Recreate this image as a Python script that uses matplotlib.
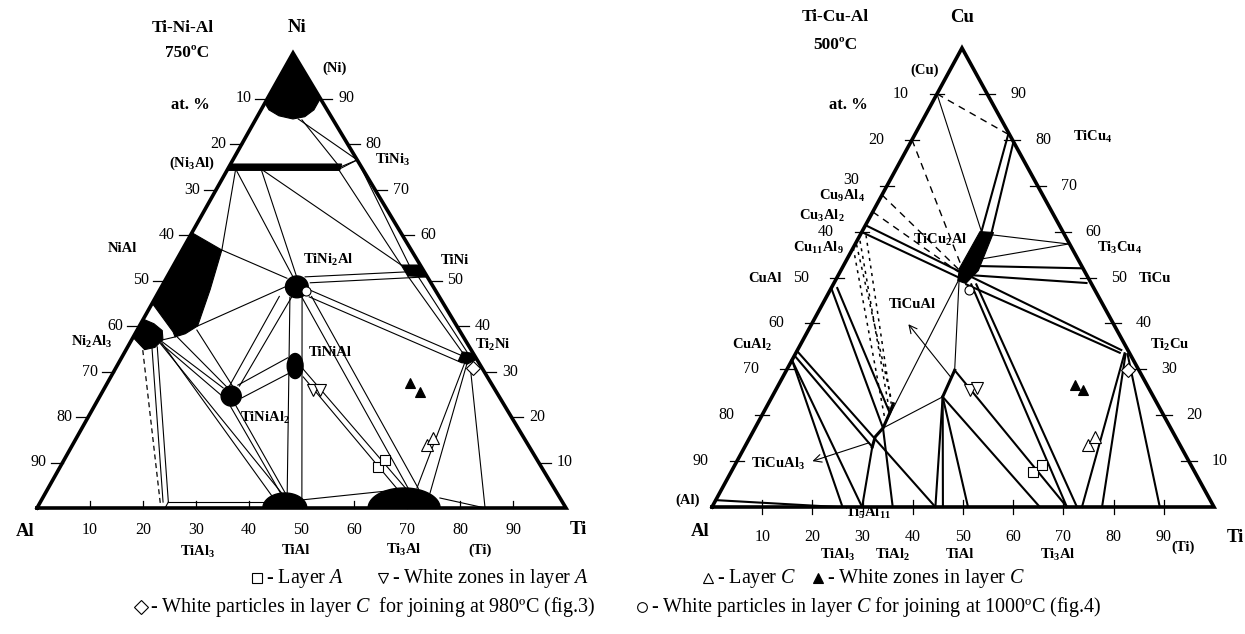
import numpy as np
import matplotlib
matplotlib.use("Agg")
import matplotlib.pyplot as plt
from matplotlib.patches import Polygon, Ellipse

W, H = 1245, 634

# ---------------- Ti-Ni-Al, 750 C : points are (Ti at.%, Ni at.%) ----------------
NI_SS = [(0, 100), (0, 89), (1.5, 87.5), (4, 86.2), (7, 85.5), (9, 86), (10, 87.5), (10, 90)]
NI3AL_BAR = [(0, 75.6), (21, 75.6), (21.3, 74.2), (0, 74.2)]
NIAL = [(0, 60.5), (7.5, 56.7), (9.5, 48), (11, 40), (9.5, 38.3), (7.9, 37.6), (7, 38.7), (0, 45)]
NI2AL3 = [(0, 41.5), (2.5, 40.5), (4.8, 39), (5.9, 37), (5.2, 35.3), (3.5, 34.8), (0, 37.5)]
TINI = [(43, 53.4), (46.6, 53.4), (49.2, 50.8), (45.4, 51)]
TI2NI = [(63.8, 34.3), (66, 34), (67.3, 32.7), (66, 31.6), (64, 32.3)]
# ellipse blobs: centre (Ti, Ni), width, height
NI_BLOBS = [((25.6, 48.6), 4.3, 4.8),   # TiNi2Al
            ((24.8, 24.6), 3.8, 4.4),   # TiNiAl2
            ((33.7, 31.2), 3.0, 5.5)]   # TiNiAl
# domes on the Al-Ti side: (Ti from, Ti to, height)
NI_DOMES = [(42.7, 51.0, 3.3), (62.6, 76.2, 4.4)]

NI_TIES = [
    ((8, 85.5), (23.5, 76.5)), ((8.8, 85.3), (21, 74.9)), ((21, 74.9), (23.5, 76.5)),
    ((21, 74.4), (23.5, 76.5)), ((21, 74.4), (43, 53.4)), ((23.5, 76.5), (44.5, 53.4)),
    ((1.5, 74.5), (7.5, 56.7)), ((1.5, 74.5), (23.8, 50.8)), ((6.3, 74.5), (24.5, 50.8)),
    ((6.3, 74.5), (43, 53.4)),
    ((7.5, 56.7), (22.8, 50.5)), ((11, 40), (23.4, 48.6)), ((5.7, 36.9), (7.9, 37.6)),
    ((8.3, 37.6), (23, 26.6)), ((11.3, 39.1), (24.2, 26.6)),
    ((5.4, 36.9), (22.4, 26.4)), ((5.4, 36.5), (23.4, 24.4)),
    ((6, 36.3), (43.4, 2.4)), ((6, 36), (45.7, 2.4)),
    ((4.7, 35.2), (23.2, 1.3)), ((5.6, 35.4), (24.2, 1.3)),
    ((24.2, 1.3), (42.9, 1.3)), ((24.2, 1.3), (24.2, 0)),
    ((23.3, 46.5), (23.4, 26.8)), ((25.7, 46.5), (25.3, 26.8)),
    ((25.6, 22.5), (45.3, 2.4)), ((26.6, 22.6), (46.2, 2.4)),
    ((25.4, 46.3), (45.7, 3.3)), ((27.7, 46.3), (49.2, 1.8)),
    ((24.9, 27.0), (31.4, 33.0)), ((27.0, 24.2), (33.4, 29.7)),
    ((35.2, 30.8), (68.0, 4.0)), ((36.4, 28.8), (66.3, 4.0)),
    ((27.0, 47.0), (68.2, 4.2)), ((29.4, 46.5), (70.0, 4.3)),
    ((28.4, 47.9), (64.8, 33.2)), ((29.0, 46.4), (64.9, 31.9)),
    ((26.1, 50.8), (44.8, 51.9)), ((27.7, 49.5), (49.1, 50.8)),
    ((45.4, 51), (64.3, 33.8)), ((47.5, 50.8), (65.0, 34.0)),
    ((69.7, 4.4), (65.4, 32.0)), ((72.7, 3.3), (65.9, 31.8)),
    ((66.9, 31.0), (84.7, 0)), ((75.1, 2.2), (84.7, 0)),
    ((49.4, 1.8), (67.9, 4.2)),
]
NI_DASH = [((3.2, 34.7), (23.0, 0.7))]

NI_SQ = ([60.1, 60.7], [9.0, 10.5])
NI_DOWN = ([39.6, 41.0], [25.9, 25.9])
NI_UP = ([67.0, 67.4], [13.8, 15.4])
NI_FILLED = ([57.2, 60.1], [27.5, 25.5])
NI_DIAM = ([67.5], [30.8])
NI_CIRC = ([27.8], [47.7])

# ---------------- Ti-Cu-Al, 500 C : points are (Ti at.%, Cu at.%) ----------------
TICU2AL = [(23.5, 60), (26.3, 59.8), (27.4, 51.5), (26.3, 48.7), (24.4, 49.3), (23.4, 52)]
TICUAL3_PATH = [(25.4, 13.1), (24.9, 15.3), (25.5, 17.2), (25.2, 20.5), (24.9, 22.5)]
TICUAL_PATH = [(34, 24), (33.5, 29.8)]

CU_THIN = [
    ((0, 90), (23.8, 60)), ((26.2, 59.3), (42.5, 57.3)), ((26.6, 54), (42.5, 57.3)),
    ((24.5, 49.5), (25.5, 17.2)), ((24.8, 49), (33.5, 29.8)), ((25.5, 17.2), (34, 24)),
]
CU_THICK = [
    ((23.8, 60), (18.5, 81.5)), ((26.0, 59.5), (20.5, 79.3)),
    ((26.8, 52.5), (48, 52)), ((26.5, 50.5), (50.3, 48.8)),
    ((27, 50), (64.5, 34.2)), ((26.5, 48.5), (64.5, 33.6)),
    ((27.5, 48.5), (70.7, 0)), ((28.5, 48.5), (72.7, 0)),
    ((0, 61.4), (24.5, 51.0)), ((0, 59.9), (24.5, 49.9)),
    ((0, 47.7), (25.5, 17.2)), ((1.2, 47.7), (25.2, 20.5)),
    ((0, 34), (44.5, 0)), ((0, 33), (25.4, 13.1)), ((0, 32), (26, 0)), ((0, 32), (29.9, 0)),
    ((25.4, 13.1), (29.9, 0)), ((25.5, 17.2), (36, 0)),
    ((34, 24), (44.5, 0)), ((34, 24), (46, 0)), ((34, 24), (51, 0)), ((34, 24), (65.3, 0)),
    ((33.5, 29.8), (70.7, 0)),
    ((65.5, 33.5), (73.7, 0)), ((65.8, 33.3), (77.7, 0)), ((66.2, 33.3), (89.2, 0)),
    ((0, 1.5), (25, 0)),
]
CU_DASH = [
    ((0, 90), (19, 81)), ((0, 80), (23.7, 52.3)), ((0, 68), (23.6, 51.6)), ((0, 64.3), (23.6, 51.2)),
]
CU_DOTS = [
    ((0, 56.5), (25.0, 19.0)), ((0.6, 58.0), (25.2, 20.5)),
    ((1.2, 59.2), (24.5, 22.5)), ((0.3, 57.2), (24.0, 23.5)),
]
CU_ARROWS = [((34.2, 27.7), (18.7, 40.3)), ((24.8, 14.2), (14.6, 9.8))]

CU_SQ = ([60.1, 61.1], [7.6, 9.2])
CU_DOWN = ([38.6, 39.8], [25.5, 25.9])
CU_UP = ([68.1, 68.7], [13.5, 15.3])
CU_FILLED = ([59.0, 61.2], [26.6, 25.5])
CU_DIAM = ([68.0], [29.8])
CU_CIRC = ([27.7], [47.3])

TICKS = [10, 20, 30, 40, 50, 60, 70, 80, 90]

plt.rcParams['font.family'] = ['Liberation Serif', 'DejaVu Serif']
plt.rcParams['mathtext.fontset'] = 'custom'
plt.rcParams['mathtext.rm'] = 'Liberation Serif'
plt.rcParams['mathtext.it'] = 'Liberation Serif:italic'
plt.rcParams['mathtext.bf'] = 'Liberation Serif:bold'

fig = plt.figure(figsize=(W / 100, H / 100), dpi=100)
ax0 = fig.add_axes([0, 0, 1, 1])
ax0.set_xlim(0, W)
ax0.set_ylim(H, 0)
ax0.axis('off')


def tri_axes(x0, x1, ybot, ytop):
    ax = fig.add_axes([x0 / W, (H - ybot) / H, (x1 - x0) / W, (ybot - ytop) / H])
    ax.set_xlim(0, 100)
    ax.set_ylim(0, 100)
    ax.axis('off')
    ax.patch.set_alpha(0)
    return ax


def cxy(pts, skew):
    a = np.asarray(pts, float)
    return a[:, 0] + skew * a[:, 1], a[:, 1]


def lines(ax, segs, skew, **kw):
    for p, q in segs:
        x, y = cxy([p, q], skew)
        ax.plot(x, y, color='k', clip_on=False, **kw)


def poly(ax, pts, skew):
    x, y = cxy(pts, skew)
    ax.add_patch(Polygon(np.c_[x, y], closed=True, fc='k', ec='k', lw=0.8, clip_on=False, zorder=3))


def markers(ax, skew, sq, down, up, filled, diam, circ):
    def pl(d, m, ms, fc):
        x = np.asarray(d[0]) + skew * np.asarray(d[1])
        ax.plot(x, d[1], m, ms=ms, mfc=fc, mec='k', mew=0.8, clip_on=False, zorder=5)
    pl(sq, 's', 7, 'white')
    pl(down, 'v', 9, 'white')
    pl(up, '^', 9, 'white')
    pl(filled, '^', 7.5, 'k')
    pl(diam, 'D', 7, 'white')
    pl(circ, 'o', 6.5, 'white')


def frame(ax, skew, pxx, pxy, left_tick, right_tick, bot_tick, lab_off, left_dy=None):
    left_dy = left_dy or {}
    x, y = cxy([(0, 0), (100, 0), (0, 100), (0, 0)], skew)
    ax.plot(x, y, color='k', lw=2.6, clip_on=False, solid_joinstyle='miter', zorder=4)
    for k in TICKS:
        # Al-X edge (labelled with Al at.%)
        ex, ey = cxy([(0, 100 - k)], skew)
        ax.plot([ex[0] - left_tick[0] / pxx, ex[0] + left_tick[1] / pxx], [ey[0]] * 2,
                color='k', lw=0.9, clip_on=False)
        ax.annotate(str(k), (ex[0], ey[0]), xytext=(lab_off[0], left_dy.get(k, 0)),
                    textcoords='offset pixels', ha='right', va='center', fontsize=11.5)
        # X-Ti edge (labelled with X at.%)
        ex, ey = cxy([(100 - k, k)], skew)
        ax.plot([ex[0] - right_tick[0] / pxx, ex[0] + right_tick[1] / pxx], [ey[0]] * 2,
                color='k', lw=0.9, clip_on=False)
        ax.annotate(str(k), (ex[0], ey[0]), xytext=(lab_off[1], 0), textcoords='offset pixels',
                    ha='left', va='center', fontsize=11.5)
        # Al-Ti edge
        ax.plot([k, k], [-bot_tick[0] / pxy, bot_tick[1] / pxy], color='k', lw=0.9, clip_on=False)
        ax.annotate(str(k), (k, 0), xytext=(0, lab_off[2]), textcoords='offset pixels',
                    ha='center', va='center', fontsize=11.5)


# ---------------- left diagram ----------------
SKL = 0.484
axL = tri_axes(37, 566, 508, 53)
frame(axL, SKL, 5.29, 4.55, (12, 0), (0, 12), (0, 7), (-16, 18, -22))
lines(axL, NI_TIES, SKL, lw=0.8)
lines(axL, NI_DASH, SKL, lw=0.9, ls=(0, (4, 3)))
for shape in (NI_SS, NI3AL_BAR, NIAL, NI2AL3, TINI, TI2NI):
    poly(axL, shape, SKL)
for (t, n), w, h in NI_BLOBS:
    axL.add_patch(Ellipse((t + SKL * n, n), w, h, fc='k', ec='k', clip_on=False, zorder=3))
for t0, t1, h in NI_DOMES:
    th = np.linspace(0, np.pi, 60)
    axL.fill((t0 + t1) / 2 + (t1 - t0) / 2 * np.cos(th), h * np.sin(th), color='k',
             clip_on=False, zorder=3)
markers(axL, SKL, NI_SQ, NI_DOWN, NI_UP, NI_FILLED, NI_DIAM, NI_CIRC)

# ---------------- right diagram ----------------
SKR = 0.498
axR = tri_axes(712, 1214, 507, 48)
frame(axR, SKR, 5.02, 4.59, (7, 7), (8, 8), (7, 7), (-28, 23, -30), left_dy={30: 6})
lines(axR, CU_THIN, SKR, lw=0.8)
lines(axR, CU_THICK, SKR, lw=1.5)
lines(axR, CU_DASH, SKR, lw=1.0, ls=(0, (5, 4)))
lines(axR, CU_DOTS, SKR, lw=1.1, ls=(0, (2, 3)))
poly(axR, TICU2AL, SKR)
for path, lw in ((TICUAL3_PATH, 2.2), (TICUAL_PATH, 2.2)):
    x, y = cxy(path, SKR)
    axR.plot(x, y, color='k', lw=lw, clip_on=False)
for p, q in CU_ARROWS:
    (x1, x2), (y1, y2) = cxy([p, q], SKR)
    axR.annotate('', xy=(x2, y2), xytext=(x1, y1),
                 arrowprops=dict(arrowstyle='->', lw=0.8, color='k', mutation_scale=14))
markers(axR, SKR, CU_SQ, CU_DOWN, CU_UP, CU_FILLED, CU_DIAM, CU_CIRC)


# ---------------- labels ----------------
def lab(x, y, s, size=10.5, bold=True, **kw):
    ax0.text(x, y, s, ha=kw.pop('ha', 'center'), va='center', fontsize=size,
             fontweight='bold' if bold else 'normal', **kw)


for x, y, s in [(183, 28, "Ti-Ni-Al"), (187, 53, "750ºC"), (835, 17, "Ti-Cu-Al"), (835, 45, "500ºC")]:
    lab(x, y, s, 12.5)
for x, y, s in [(297, 27, "Ni"), (25, 532, "Al"), (578, 530, "Ti"),
                (962, 17, "Cu"), (700, 532, "Al"), (1235, 537, "Ti")]:
    lab(x, y, s, 13.5)
lab(190, 105, "at. %", 12)
lab(848, 105, "at. %", 12)

for x, y, s in [
        (335, 68, "(Ni)"), (192, 163, r"(Ni$_\mathbf{3}$Al)"), (393, 160, r"TiNi$_\mathbf{3}$"),
        (122, 248, "NiAl"), (328, 260, r"TiNi$_\mathbf{2}$Al"), (455, 260, "TiNi"),
        (92, 342, r"Ni$_\mathbf{2}$Al$_\mathbf{3}$"), (330, 352, "TiNiAl"),
        (265, 418, r"TiNiAl$_\mathbf{2}$"), (493, 345, r"Ti$_\mathbf{2}$Ni"),
        (198, 552, r"TiAl$_\mathbf{3}$"), (296, 550, "TiAl"), (404, 550, r"Ti$_\mathbf{3}$Al"),
        (480, 550, "(Ti)"),
        (925, 70, "(Cu)"), (1093, 137, r"TiCu$_\mathbf{4}$"), (842, 196, r"Cu$_\mathbf{9}$Al$_\mathbf{4}$"),
        (822, 216, r"Cu$_\mathbf{3}$Al$_\mathbf{2}$"), (818, 248, r"Cu$_\mathbf{11}$Al$_\mathbf{9}$"),
        (765, 279, "CuAl"), (940, 240, r"TiCu$_\mathbf{2}$Al"), (1120, 248, r"Ti$_\mathbf{3}$Cu$_\mathbf{4}$"),
        (1155, 279, "TiCu"), (912, 305, "TiCuAl"), (752, 345, r"CuAl$_\mathbf{2}$"),
        (1170, 345, r"Ti$_\mathbf{2}$Cu"), (778, 464, r"TiCuAl$_\mathbf{3}$"), (688, 500, "(Al)"),
        (868, 513, r"Ti$_\mathbf{5}$Al$_\mathbf{11}$"), (838, 555, r"TiAl$_\mathbf{3}$"),
        (893, 555, r"TiAl$_\mathbf{2}$"), (960, 555, "TiAl"), (1058, 555, r"Ti$_\mathbf{3}$Al"),
        (1183, 547, "(Ti)")]:
    lab(x, y, s)

# legend
LEG = [(257, 578, 's', 'white', r"- Layer $A$"),
       (383, 578, 'v', 'white', r"- White zones in layer $A$"),
       (708, 578, '^', 'white', r"- Layer $C$"),
       (818, 578, '^', 'k', r"- White zones in layer $C$"),
       (141, 607, 'D', 'white', r"- White particles in layer $C$  for joining at 980ºC (fig.3)"),
       (642, 607, 'o', 'white', r"- White particles in layer $C$ for joining at 1000ºC (fig.4)")]
for x, y, m, fc, s in LEG:
    ax0.plot([x], [y], m, ms=7, mfc=fc, mec='k', mew=0.8)
    lab(x + 9, y, s, 14.5, bold=False, ha='left')

fig.savefig("out.png", dpi=100)
